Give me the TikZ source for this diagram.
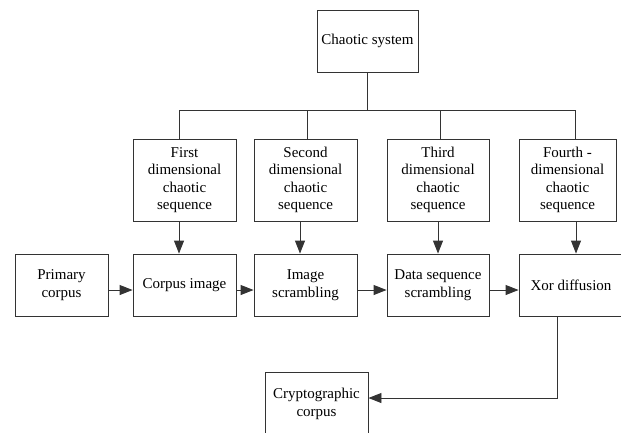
\documentclass[tikz,border=0pt]{standalone}
\usepackage{fontspec}
\setmainfont{Liberation Serif}
\usetikzlibrary{arrows.meta}
\definecolor{linec}{HTML}{333333}
\begin{document}
\begin{tikzpicture}[x=1pt,y=-1pt,
  box/.style={draw=linec, line width=0.9pt, align=center, inner sep=0pt,
    font=\fontsize{15}{17.5}\selectfont, text=black},
  lowbox/.style={box, minimum height=62pt},
  seqbox/.style={box, minimum height=82pt},
  conn/.style={draw=linec, line width=0.9pt},
  arr/.style={conn, -{Triangle[length=13pt,width=10pt]}}]
\useasboundingbox (0,0) rectangle (621,432);
\fill[white] (0,0) rectangle (621,432);

% top
\node[lowbox, minimum width=101pt] (chaos) at (367.5,41) {Chaotic system};

% sequence boxes
\node[seqbox, minimum width=103pt] (s1) at (184.5,180) {First\\dimensional\\chaotic\\sequence};
\node[seqbox, minimum width=103pt] (s2) at (305.5,180) {Second\\dimensional\\chaotic\\sequence};
\node[seqbox, minimum width=102pt] (s3) at (438,180) {Third\\dimensional\\chaotic\\sequence};
\node[seqbox, minimum width=97pt] (s4) at (567.5,180) {Fourth -\\dimensional\\chaotic\\sequence};

% lower row
\node[lowbox, minimum width=93pt] (prim) at (61.5,285) {Primary\\corpus};
\node[lowbox, minimum width=103pt] (corp) at (184.5,285) {Corpus image};
\node[lowbox, minimum width=103pt] (scr) at (305.5,285) {Image\\scrambling};
\node[lowbox, minimum width=102pt] (dat) at (438,285) {Data sequence\\scrambling};
\node[lowbox, minimum width=104pt] (xor) at (571,285) {Xor diffusion};

% output
\node[lowbox, minimum width=103pt, minimum height=64pt] (cry) at (316.5,404) {Cryptographic\\corpus};

% bus from chaotic system
\coordinate (b1) at (179,110);
\coordinate (b2) at (307,110);
\coordinate (b3) at (440,110);
\coordinate (b4) at (575,110);
\draw[conn] (chaos.south) -- (chaos.south |- b1);
\draw[conn] (b1) -- (b4);
\draw[conn] (b1) -- (s1.north -| b1);
\draw[conn] (b2) -- (s2.north -| b2);
\draw[conn] (b3) -- (s3.north -| b3);
\draw[conn] (b4) -- (s4.north -| b4);

% sequences down to row
\coordinate (d1) at (179,0);
\coordinate (d2) at (300,0);
\coordinate (d3) at (438,0);
\coordinate (d4) at (576,0);
\draw[arr] (s1.south -| d1) -- (corp.north -| d1);
\draw[arr] (s2.south -| d2) -- (scr.north -| d2);
\draw[arr] (s3.south -| d3) -- (dat.north -| d3);
\draw[arr] (s4.south -| d4) -- (xor.north -| d4);

% horizontal flow
\coordinate (ay) at (0,290);
\draw[arr] (prim.east |- ay) -- (corp.west |- ay);
\draw[arr] (corp.east |- ay) -- (scr.west |- ay);
\draw[arr] (scr.east |- ay) -- (dat.west |- ay);
\draw[arr] (dat.east |- ay) -- (xor.west |- ay);

% xor to cryptographic corpus
\coordinate (xd) at (557,398);
\draw[arr] (xor.south -| xd) -- (xd) -- (cry.east |- xd);
\end{tikzpicture}
\end{document}
